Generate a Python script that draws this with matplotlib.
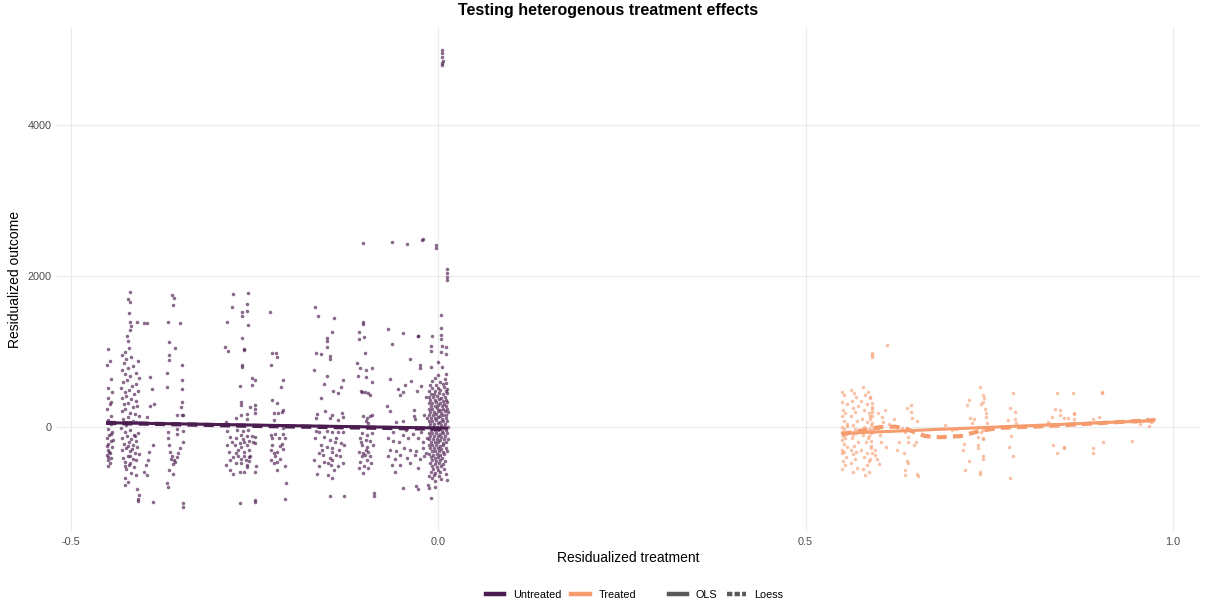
import matplotlib
matplotlib.use("Agg")
import matplotlib.pyplot as plt
from matplotlib.lines import Line2D

plt.rcParams['font.family'] = ['Liberation Sans', 'DejaVu Sans']

# ---------------- data ----------------
title = "Testing heterogenous treatment effects"
x_label = "Residualized treatment"
y_label = "Residualized outcome"
x_ticks = [-0.5, 0.0, 0.5, 1.0]
x_tick_labels = ["-0.5", "0.0", "0.5", "1.0"]
y_ticks = [0, 2000, 4000]
y_tick_labels = ["0", "2000", "4000"]
group_names = ["Untreated", "Treated"]
fit_names = ["OLS", "Loess"]

untreated_band_a = [(-0.450,1040),(-0.447,880),(-0.451,820),(-0.446,640),(-0.449,520),(-0.444,470),(-0.450,390),
    (-0.447,300),(-0.451,240),(-0.445,150),(-0.449,90),(-0.446,40),(-0.450,-20),(-0.444,-60),(-0.448,-110),
    (-0.451,-150),(-0.446,-190),(-0.449,-230),(-0.444,-270),(-0.450,-300),(-0.447,-340),(-0.451,-370),
    (-0.445,-410),(-0.449,-440),(-0.447,-480),(-0.450,-520),(-0.443,-170),(-0.446,-90),(-0.451,-250),
    (-0.448,-330),(-0.445,330),(-0.449,-400)]

untreated_band_b = [(-0.420,1790),(-0.422,1700),(-0.419,1650),(-0.421,1510),(-0.420,1390),(-0.418,1340),
    (-0.419,1280),(-0.410,1395),(-0.400,1380),(-0.424,1200),(-0.423,1140),(-0.421,1050),(-0.426,1000),
    (-0.430,960),(-0.418,930),(-0.425,905),(-0.409,870),(-0.428,842),(-0.415,805),(-0.422,778),(-0.431,752),
    (-0.412,715),(-0.426,701),(-0.419,676),(-0.408,648),(-0.424,622),(-0.429,597),(-0.411,571),(-0.417,548),
    (-0.432,521),(-0.421,494),(-0.409,476),(-0.427,458),(-0.414,437),(-0.425,411),(-0.430,388),(-0.418,366),
    (-0.412,349),(-0.422,322),(-0.428,301),(-0.410,279),(-0.415,262),(-0.426,238),(-0.431,212),(-0.419,188),
    (-0.413,171),(-0.408,147),(-0.423,129),(-0.429,108),(-0.416,86),(-0.411,61),(-0.425,33),
    (-0.432,-18),(-0.420,-37),(-0.427,-63),(-0.409,-79),(-0.414,-104),(-0.424,-118),(-0.430,-143),
    (-0.418,-157),(-0.412,-184),(-0.421,-203),(-0.428,-226),(-0.415,-239),(-0.410,-262),(-0.425,-281),
    (-0.431,-298),(-0.419,-317),(-0.413,-343),(-0.408,-358),(-0.423,-379),(-0.429,-404),(-0.416,-418),
    (-0.411,-443),(-0.427,-468),(-0.421,-497),(-0.414,-532),(-0.425,-558),(-0.418,-603),(-0.412,-641),
    (-0.427,-679),(-0.422,-728),(-0.426,-763),(-0.410,-821),(-0.408,-903),(-0.409,-948),(-0.409,-975),
    (-0.420,-383),(-0.417,-296),(-0.423,-252),(-0.413,-122),(-0.426,-518),(-0.419,-472)]

untreated_band_gap = [(-0.392,658),(-0.390,510),(-0.387,300),(-0.392,280),(-0.396,137),(-0.388,-240),
    (-0.394,-330),(-0.395,-440),(-0.396,-630),(-0.400,-600),(-0.398,-500),(-0.388,-990),(-0.397,1380)]

untreated_band_c = [(-0.363,1750),(-0.360,1710),(-0.361,1620),(-0.368,1395),(-0.351,1380),(-0.366,1130),
    (-0.359,1050),(-0.367,955),(-0.366,890),(-0.349,820),(-0.369,715),(-0.349,620),(-0.369,535),(-0.349,510),
    (-0.349,335),(-0.350,270),(-0.356,160),(-0.349,160),(-0.347,160),(-0.356,-20),(-0.355,-90),(-0.347,-50),
    (-0.347,-195),(-0.368,-150),(-0.366,-240),(-0.365,-330),(-0.364,-420),(-0.360,-440),(-0.358,-465),
    (-0.356,-400),(-0.361,-490),(-0.366,-570),(-0.361,-620),(-0.369,-745),(-0.368,-800),(-0.348,-1010),
    (-0.348,-1060),(-0.362,-380),(-0.354,-350),(-0.368,-60),(-0.352,-280)]

untreated_band_d = [(-0.279,1760),(-0.259,1770),(-0.281,1595),(-0.261,1630),(-0.267,1525),(-0.261,1535),
    (-0.267,1465),(-0.288,1395),(-0.259,1350),(-0.267,1175),(-0.290,1065),(-0.286,1010),(-0.264,1040),
    (-0.264,1020),(-0.267,820),(-0.267,800),(-0.253,650),(-0.250,620),(-0.254,560),(-0.270,545),(-0.268,335),
    (-0.268,290),(-0.256,270),(-0.250,290),(-0.250,245),(-0.249,180),(-0.261,170),(-0.268,160),(-0.276,125),
    (-0.261,105),(-0.289,60),(-0.287,-50),(-0.274,-45),(-0.266,-55),(-0.259,-40),(-0.284,-130),(-0.276,-140),
    (-0.268,-110),(-0.261,-125),(-0.253,-120),(-0.249,-130),(-0.281,-200),(-0.270,-215),(-0.264,-195),
    (-0.257,-180),(-0.252,-200),(-0.287,-240),(-0.277,-240),(-0.268,-260),(-0.261,-240),(-0.250,-215),
    (-0.285,-330),(-0.273,-310),(-0.264,-330),(-0.257,-305),(-0.279,-400),(-0.272,-390),(-0.265,-390),
    (-0.256,-390),(-0.283,-440),(-0.269,-420),(-0.262,-440),(-0.258,-400),(-0.289,-500),(-0.276,-470),
    (-0.269,-480),(-0.260,-500),(-0.248,-520),(-0.284,-570),(-0.270,-590),(-0.264,-590),(-0.250,-590),
    (-0.280,-620),(-0.261,-530),(-0.270,-1010),(-0.250,-960),(-0.250,-990),(-0.275,-350),(-0.258,-450),
    (-0.266,-160)]

untreated_band_e = [(-0.229,1527),(-0.226,985),(-0.221,985),(-0.219,925),(-0.228,817),(-0.211,623),
    (-0.214,525),(-0.226,358),(-0.219,320),(-0.211,225),(-0.223,180),(-0.218,185),(-0.213,195),(-0.224,90),
    (-0.211,-10),(-0.228,-106),(-0.222,-95),(-0.211,-95),(-0.226,-150),(-0.217,-140),(-0.208,-140),
    (-0.226,-240),(-0.213,-220),(-0.219,-330),(-0.224,-350),(-0.211,-290),(-0.228,-440),(-0.222,-390),
    (-0.215,-420),(-0.219,-460),(-0.224,-480),(-0.208,-520),(-0.219,-570),(-0.207,-745),(-0.208,-955),
    (-0.216,-250),(-0.227,-300)]

untreated_band_f = [(-0.168,1595),(-0.164,1470),(-0.142,1450),(-0.151,1175),(-0.151,1145),(-0.145,1260),
    (-0.152,1055),(-0.166,975),(-0.160,965),(-0.148,940),(-0.148,895),(-0.169,755),(-0.152,675),(-0.129,625),
    (-0.155,570),(-0.132,530),(-0.143,475),(-0.137,445),(-0.160,380),(-0.154,212),(-0.165,175),(-0.144,160),
    (-0.131,190),(-0.130,130),(-0.148,115),(-0.137,95),(-0.166,115),(-0.167,-50),(-0.162,-70),(-0.151,-55),
    (-0.144,-70),(-0.137,-60),(-0.130,-70),(-0.168,-150),(-0.155,-130),(-0.147,-170),(-0.139,-150),
    (-0.132,-216),(-0.160,-240),(-0.152,-260),(-0.144,-280),(-0.135,-300),(-0.128,-240),(-0.163,-350),
    (-0.157,-370),(-0.144,-330),(-0.139,-370),(-0.148,-410),(-0.134,-390),(-0.169,-440),(-0.155,-465),
    (-0.144,-440),(-0.129,-480),(-0.150,-480),(-0.163,-520),(-0.146,-500),(-0.142,-570),(-0.165,-620),
    (-0.150,-630),(-0.144,-670),(-0.148,-915),(-0.128,-915),(-0.158,-300),(-0.141,-200),(-0.136,-520)]

untreated_band_g = [(-0.102,1395),(-0.102,1365),(-0.108,1260),(-0.101,1195),(-0.108,1160),(-0.100,975),
    (-0.110,852),(-0.107,780),(-0.099,758),(-0.090,780),(-0.109,675),(-0.099,660),(-0.090,590),(-0.105,480),
    (-0.104,470),(-0.100,460),(-0.093,430),(-0.096,450),(-0.090,160),(-0.093,150),(-0.102,145),(-0.097,120),
    (-0.099,75),(-0.095,55),(-0.104,-80),(-0.097,-110),(-0.090,-80),(-0.106,-150),(-0.099,-170),(-0.093,-190),
    (-0.104,-240),(-0.097,-260),(-0.089,-240),(-0.108,-330),(-0.102,-350),(-0.095,-330),(-0.104,-390),
    (-0.100,-370),(-0.093,-390),(-0.106,-465),(-0.097,-440),(-0.091,-480),(-0.101,-520),(-0.108,-540),
    (-0.095,-540),(-0.102,-610),(-0.088,-880),(-0.088,-915),(-0.099,-300),(-0.105,-200)]

untreated_band_h = [(-0.069,1293),(-0.048,1250),(-0.028,1210),(-0.063,1100),(-0.039,897),(-0.066,632),
    (-0.025,820),(-0.025,780),(-0.037,615),(-0.045,560),(-0.024,540),(-0.055,510),(-0.029,475),(-0.048,465),
    (-0.052,420),(-0.017,400),(-0.070,280),(-0.066,210),(-0.057,60),(-0.048,80),(-0.033,220),(-0.033,140),
    (-0.031,100),(-0.020,160),(-0.015,115),(-0.068,-140),(-0.061,-180),(-0.054,-200),(-0.048,-110),
    (-0.041,-150),(-0.035,-90),(-0.028,-140),(-0.021,-200),(-0.015,-150),(-0.066,-300),(-0.057,-320),
    (-0.046,-280),(-0.039,-300),(-0.030,-320),(-0.021,-280),(-0.016,-350),(-0.068,-390),(-0.059,-430),
    (-0.052,-370),(-0.043,-410),(-0.032,-370),(-0.025,-430),(-0.019,-390),(-0.063,-500),(-0.052,-500),
    (-0.039,-480),(-0.028,-545),(-0.059,-590),(-0.048,-812),(-0.030,-780),(-0.028,-820),(-0.062,-60),
    (-0.044,-40),(-0.023,-60)]

untreated_high = [(-0.103,2441),(-0.063,2445),(-0.042,2430),(-0.022,2475),(-0.021,2485),(-0.003,2410),
    (-0.003,2375),(0.012,2090),(0.012,2035),(0.012,1990),(0.012,1950),(0.005,5000),(0.005,4950),
    (0.005,4900),(0.006,4850),(0.005,4820),(0.005,4790)]

untreated_band_zero = [(0.004,1483),(0.004,1315),(0.004,1218),(-0.009,1205),(0.004,1160),(0.011,1062),
    (-0.010,1075),(0.005,1075),(-0.010,1010),(0.004,1000),(0.011,969),(-0.001,865),(-0.010,800),(0.005,800),
    (0.011,702),(0.000,690),(-0.028,1205),(-0.010,-945),(-0.004,-790),(-0.014,-770),(-0.013,-810),
    (-0.005,644),(0.009,631),(-0.008,603),(0.002,596),(0.011,588),(-0.011,562),(-0.003,555),(0.006,571),
    (-0.009,523),(0.000,517),(0.008,528),(0.012,509),(-0.012,483),(-0.004,476),(0.003,489),(0.010,471),
    (-0.010,443),(-0.006,437),(0.001,446),(0.007,431),(0.012,452),(-0.013,402),(-0.007,396),(-0.002,409),
    (0.004,391),(0.009,404),(-0.011,362),(-0.004,355),(0.001,368),(0.006,351),(0.011,359),(-0.012,322),
    (-0.008,314),(-0.003,327),(0.002,318),(0.008,311),(0.012,329),(-0.010,283),(-0.005,276),(0.000,288),
    (0.005,272),(0.010,281),(-0.013,243),(-0.008,236),(-0.002,249),(0.003,231),(0.007,245),(0.012,238),
    (-0.011,203),(-0.006,196),(-0.001,208),(0.004,192),(0.009,206),(0.013,199),(-0.012,162),(-0.007,157),
    (-0.003,168),(0.002,151),(0.006,164),(0.011,158),(-0.010,121),(-0.005,116),(0.000,128),(0.005,112),
    (0.010,125),(-0.013,82),(-0.008,77),(-0.003,88),(0.002,73),(0.007,85),(0.012,79),(-0.011,42),(-0.006,36),
    (-0.001,47),(0.004,33),(0.009,44),(-0.012,2),(-0.007,-4),(-0.002,7),(0.003,-8),(0.008,5),(0.013,-2),
    (-0.010,-38),(-0.005,-44),(0.000,-33),(0.005,-47),(0.011,-36),(-0.013,-78),(-0.008,-84),(-0.003,-73),
    (0.002,-88),(0.007,-76),(0.012,-82),(-0.011,-118),(-0.006,-124),(-0.001,-113),(0.004,-127),(0.009,-116),
    (-0.012,-158),(-0.007,-164),(-0.002,-153),(0.003,-168),(0.008,-156),(0.013,-162),(-0.010,-198),
    (-0.005,-204),(0.000,-193),(0.006,-207),(0.011,-196),(-0.013,-238),(-0.008,-244),(-0.003,-233),
    (0.002,-247),(0.007,-236),(-0.011,-278),(-0.006,-284),(-0.001,-273),(0.004,-287),(0.010,-276),
    (-0.009,-318),(-0.004,-324),(0.001,-313),(0.006,-327),(0.012,-316),(-0.012,-358),(-0.007,-364),
    (-0.002,-353),(0.003,-367),(0.008,-356),(-0.010,-398),(-0.005,-404),(0.000,-393),(0.005,-407),
    (-0.008,-438),(-0.003,-444),(0.002,-433),(0.009,-447),(-0.011,-478),(-0.005,-484),(0.001,-473),
    (0.006,-487),(-0.009,-518),(-0.002,-524),(0.004,-513),(-0.007,-558),(0.000,-564),(0.008,-553),
    (-0.010,-598),(-0.004,-604),(0.003,-593),(-0.006,-638),(0.001,-644),(-0.008,-678),(0.004,-684),
    (-0.005,-718),(0.010,-620),(0.012,-700),(-0.012,-650)]

treated_band_1 = [(0.550,470),(0.553,420),(0.549,330),(0.556,300),(0.551,230),(0.554,180),(0.549,150),
    (0.552,80),(0.556,40),(0.550,0),(0.553,-30),(0.549,-60),(0.555,-90),(0.551,-120),(0.554,-140),
    (0.549,-170),(0.552,-220),(0.556,-260),(0.550,-300),(0.553,-330),(0.549,-350),(0.555,-400),
    (0.551,-450),(0.554,-500),(0.550,-560),(0.556,20)]
treated_band_2 = [(0.562,490),(0.566,450),(0.569,400),(0.563,350),(0.571,280),(0.565,250),(0.568,200),
    (0.562,140),(0.570,80),(0.564,30),(0.567,-20),(0.561,-60),(0.569,-80),(0.565,-100),(0.563,-150),
    (0.571,-200),(0.566,-250),(0.562,-300),(0.569,-330),(0.564,-360),(0.567,-420),(0.562,-480),
    (0.570,-540),(0.565,-590)]
treated_band_3 = [(0.578,530),(0.585,460),(0.581,420),(0.588,380),(0.576,340),(0.583,300),(0.590,260),
    (0.579,220),(0.586,180),(0.591,140),(0.577,100),(0.584,60),(0.589,30),(0.580,0),(0.587,-30),
    (0.591,-60),(0.578,-100),(0.585,-150),(0.582,-200),(0.589,-250),(0.576,-300),(0.584,-350),
    (0.580,-400),(0.587,-450),(0.583,-500),(0.578,-550),(0.586,-600),(0.581,-630),(0.590,200),
    (0.588,100),(0.590,-20),(0.589,-80),(0.590,320),(0.588,150),(0.591,50),(0.587,-120),(0.589,-280),
    (0.590,980),(0.590,955),(0.590,930),(0.588,400),(0.590,240),(0.589,-180),(0.591,-350),(0.588,-420)]
treated_band_4 = [(0.599,190),(0.604,130),(0.606,60),(0.613,40),(0.598,-30),(0.603,-195),(0.610,-270),
    (0.594,-370),(0.597,-430),(0.600,-490),(0.595,-300),(0.611,1086),(0.608,220),(0.620,100),(0.602,-100)]
treated_band_5 = [(0.644,291),(0.638,250),(0.643,195),(0.645,120),(0.652,80),(0.631,-10),(0.636,-60),
    (0.640,-130),(0.640,-195),(0.650,-195),(0.648,-240),(0.634,-350),(0.640,-480),(0.638,-450),
    (0.636,-570),(0.636,-640),(0.653,-650),(0.652,-620),(0.627,-200),(0.625,-300)]
treated_band_6 = [(0.738,525),(0.742,424),(0.743,380),(0.742,325),(0.739,300),(0.723,355),(0.720,290),
    (0.744,240),(0.745,180),(0.745,135),(0.724,125),(0.729,105),(0.726,50),(0.747,50),(0.742,-40),
    (0.739,-60),(0.735,-130),(0.741,-160),(0.735,-240),(0.735,-280),(0.716,-220),(0.715,-300),
    (0.722,-455),(0.741,-390),(0.741,-430),(0.717,-570),(0.737,-590),(0.737,-620),(0.742,-150),
    (0.783,455),(0.779,248),(0.785,205),(0.776,95),(0.785,100),(0.786,50),(0.780,-120),(0.777,-270),
    (0.782,-390),(0.778,-680),(0.700,-40),(0.705,-20),(0.690,30)]
treated_band_7 = [(0.843,446),(0.864,446),(0.839,240),(0.846,230),(0.846,160),(0.865,180),(0.866,170),
    (0.836,135),(0.852,120),(0.857,120),(0.865,105),(0.865,50),(0.837,-240),(0.843,-350),(0.852,-260),
    (0.852,-275),(0.830,60),(0.904,470),(0.904,450),(0.891,100),(0.891,-283),(0.891,-340),(0.905,-200),
    (0.900,130),(0.895,60),(0.945,-190),(0.967,13),(0.973,90),(0.948,70),(0.965,110),(0.955,40),
    (0.970,60),(0.960,85),(0.975,100)]

ols_untreated_x = [-0.452, 0.013]
ols_untreated_y = [57, -15]
loess_untreated_x = [-0.452, -0.35, -0.25, -0.15, -0.05, 0.013]
loess_untreated_y = [55, 35, 15, 0, -15, -25]
ols_treated_x = [0.549, 0.975]
ols_treated_y = [-84, 86]
loess_treated_x = [0.549, 0.575, 0.602, 0.622, 0.636, 0.649, 0.663, 0.683, 0.711, 0.738, 0.765, 0.81, 0.86, 0.915, 0.975]
loess_treated_y = [-95, -50, 0, 5, -20, -70, -120, -135, -120, -50, -10, 5, 30, 60, 92]

# ---------------- styling ----------------
c_untreated = '#4B1C4F'
c_treated = '#F69B6D'
c_fit_key = '#595959'
grid_c = '#EBEBEB'
W, H = 1207, 611

fig = plt.figure(figsize=(W / 100, H / 100), dpi=100)
ax = fig.add_axes([57 / W, 1 - 531 / H, (1200 - 57) / W, (531 - 27) / H])

def xy(bands):
    pts = [p for b in bands for p in b]
    return [p[0] for p in pts], [p[1] for p in pts]

ux, uy = xy([untreated_band_a, untreated_band_b, untreated_band_gap, untreated_band_c, untreated_band_d,
             untreated_band_e, untreated_band_f, untreated_band_g, untreated_band_h, untreated_high,
             untreated_band_zero])
tx, ty = xy([treated_band_1, treated_band_2, treated_band_3, treated_band_4, treated_band_5,
             treated_band_6, treated_band_7])

ax.scatter(ux, uy, s=6.5, color=c_untreated, alpha=0.65, linewidths=0, zorder=2)
ax.scatter(tx, ty, s=6.5, color=c_treated, alpha=0.6, linewidths=0, zorder=2)

dash = (0, (2.4, 1.5))
ax.plot(ols_untreated_x, ols_untreated_y, color=c_untreated, lw=2.2, solid_capstyle='butt', zorder=3)
ax.plot(loess_untreated_x, loess_untreated_y, color=c_untreated, lw=3.0, ls=dash, zorder=3)
ax.plot(ols_treated_x, ols_treated_y, color=c_treated, lw=2.2, solid_capstyle='butt', zorder=3)
ax.plot(loess_treated_x, loess_treated_y, color=c_treated, lw=3.0, ls=dash, zorder=3)

ax.set_xlim(-0.519, 1.037)
ax.set_ylim(-1377, 5298)
ax.set_xticks(x_ticks)
ax.set_xticklabels(x_tick_labels)
ax.set_yticks(y_ticks)
ax.set_yticklabels(y_tick_labels)
ax.grid(True, color=grid_c, lw=0.9, zorder=0)
ax.set_axisbelow(True)
for s in ax.spines.values():
    s.set_visible(False)
ax.tick_params(length=0, pad=4, labelsize=7.8, labelcolor='#4D4D4D')
ax.set_xlabel(x_label, fontsize=10, labelpad=3, color='black')
ax.set_ylabel(y_label, fontsize=10, labelpad=4, color='black')

fig.text(608 / W, 1 - 10.5 / H, title, ha='center', va='center', fontsize=11.5, fontweight='bold')

h_group = [Line2D([], [], color=c_untreated, lw=3.2), Line2D([], [], color=c_treated, lw=3.2)]
h_fit = [Line2D([], [], color=c_fit_key, lw=3.2), Line2D([], [], color=c_fit_key, lw=3.2, ls=(0, (1.2, 0.5)))]
leg_kw = dict(loc='center', ncol=2, frameon=False, fontsize=7.8, handlelength=1.7,
              handletextpad=0.8, columnspacing=0.9, borderpad=0, borderaxespad=0)
l1 = fig.legend(h_group, group_names, bbox_to_anchor=(561 / W, 1 - 595 / H), **leg_kw)
l2 = fig.legend(h_fit, fit_names, bbox_to_anchor=(726 / W, 1 - 595 / H), **leg_kw)

fig.savefig('out.png', dpi=100)
